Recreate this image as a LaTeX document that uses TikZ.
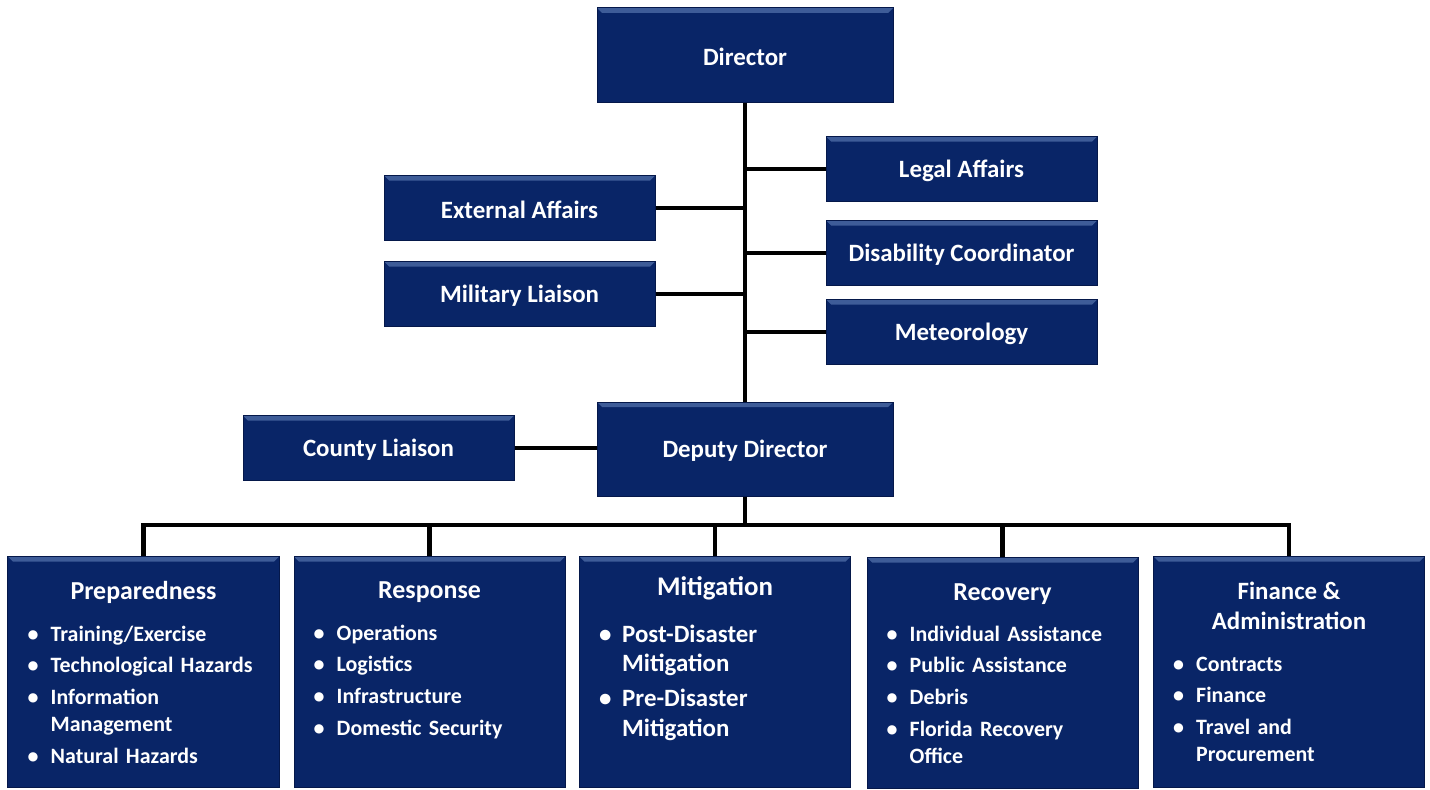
\documentclass[tikz,border=0pt]{standalone}
\usepackage{fontspec}
\setmainfont{Carlito}
\usetikzlibrary{positioning}

\definecolor{navy}{RGB}{9,37,103}
\definecolor{navyedge}{RGB}{5,24,74}
\definecolor{navytop}{RGB}{62,92,152}

% one bullet point, with hanging indent (\newline for a wrapped line)
\newcommand{\itm}[1]{\hangindent=23bp\hangafter=1\noindent\makebox[23bp][l]{\textbullet}#1\par\vspace{5bp}}

\begin{document}
\begin{tikzpicture}[x=1bp,y=-1bp,
  unit/.style={fill=navy,draw=navyedge,line width=1bp,inner sep=0pt,
    path picture={\fill[navytop] (path picture bounding box.north west)
      -- (path picture bounding box.north east)
      -- ([xshift=-5bp,yshift=-5bp]path picture bounding box.north east)
      -- ([xshift=5bp,yshift=-5bp]path picture bounding box.north west) -- cycle;}},
  small/.style={unit,minimum width=271bp,minimum height=65bp},
  big/.style={unit,minimum width=296bp,minimum height=94bp},
  div/.style={unit,minimum width=271bp,minimum height=231bp,anchor=north},
  lbl/.style={text=white,font=\bfseries\fontsize{25}{29}\selectfont,inner sep=0pt,yshift=-2bp},
  hdr/.style={text=white,inner sep=0pt,anchor=base,font=\bfseries\fontsize{26}{30}\selectfont},
  items/.style={text=white,font=\bfseries\fontsize{22}{27}\selectfont,inner sep=0pt,
    text width=250bp,anchor=base west},
  link/.style={line width=4.5bp,black}]

  \useasboundingbox (0,0) rectangle (1430,789);

  % top of the chart
  \node[big]   (dir)    at (745,55)   {};
  \node[lbl]            at (dir)      {Director};
  \node[big]   (dep)    at (745,449)  {};
  \node[lbl]            at (dep)      {Deputy Director};

  \node[small] (legal)  at (961.5,169) {};
  \node[lbl]            at (legal)     {Legal Affairs};
  \node[small] (disab)  at (961.5,253) {};
  \node[lbl]            at (disab)     {Disability Coordinator};
  \node[small] (meteo)  at (961.5,332) {};
  \node[lbl]            at (meteo)     {Meteorology};
  \node[small] (ext)    at (519.5,208) {};
  \node[lbl]            at (ext)       {External Affairs};
  \node[small] (mil)    at (519.5,294) {};
  \node[lbl]            at (mil)       {Military Liaison};
  \node[small] (county) at (378.5,448) {};
  \node[lbl]            at (county)    {County Liaison};

  % divisions
  \node[div] (prep) at (143.5,556)  {};
  \node[div] (resp) at (429.5,556)  {};
  \node[div] (mit)  at (715,556)    {};
  \node[div] (rec)  at (1002.5,557) {};
  \node[div] (fin)  at (1289,556)   {};

  \node[hdr] at ([yshift=-43bp]prep.north) {Preparedness};
  \node[items] at ([xshift=20bp,yshift=-85bp]prep.north west)
    {\itm{Training/Exercise}\itm{Technological Hazards}\itm{Information\newline Management}\itm{Natural Hazards}};

  \node[hdr] at ([yshift=-42bp]resp.north) {Response};
  \node[items] at ([xshift=20bp,yshift=-84bp]resp.north west)
    {\itm{Operations}\itm{Logistics}\itm{Infrastructure}\itm{Domestic Security}};

  \node[hdr,font=\bfseries\fontsize{27}{31}\selectfont] at ([yshift=-39bp]mit.north) {Mitigation};
  \node[items,font=\bfseries\fontsize{25}{30}\selectfont] at ([xshift=20bp,yshift=-86bp]mit.north west)
    {\itm{Post-Disaster\newline Mitigation}\itm{Pre-Disaster\newline Mitigation}};

  \node[hdr] at ([yshift=-43bp]rec.north) {Recovery};
  \node[items] at ([xshift=20bp,yshift=-84bp]rec.north west)
    {\itm{Individual Assistance}\itm{Public Assistance}\itm{Debris}\itm{Florida Recovery\newline Office}};

  \node[hdr,font=\bfseries\fontsize{25}{29}\selectfont] at ([yshift=-43bp]fin.north) {Finance \&};
  \node[hdr,font=\bfseries\fontsize{25}{29}\selectfont] at ([yshift=-73bp]fin.north) {Administration};
  \node[items] at ([xshift=20bp,yshift=-115bp]fin.north west)
    {\itm{Contracts}\itm{Finance}\itm{Travel and\newline Procurement}};

  % connectors
  \draw[link] (dir.south) -- (dep.north);
  \draw[link] (legal.west) -- (legal.west -| dir.south);
  \draw[link] (disab.west) -- (disab.west -| dir.south);
  \draw[link] (meteo.west) -- (meteo.west -| dir.south);
  \draw[link] (ext.east) -- (ext.east -| dir.south);
  \draw[link] (mil.east) -- (mil.east -| dir.south);
  \draw[link] (county.east) -- (county.east -| dep.west);

  \coordinate (bus) at (745,525);
  \draw[link] (dep.south) -- (bus);
  \draw[link] (prep.north) |- (bus) -| (fin.north);
  \draw[link] (resp.north) -- (resp.north |- bus);
  \draw[link] (mit.north) -- (mit.north |- bus);
  \draw[link] (rec.north) -- (rec.north |- bus);
\end{tikzpicture}
\end{document}
